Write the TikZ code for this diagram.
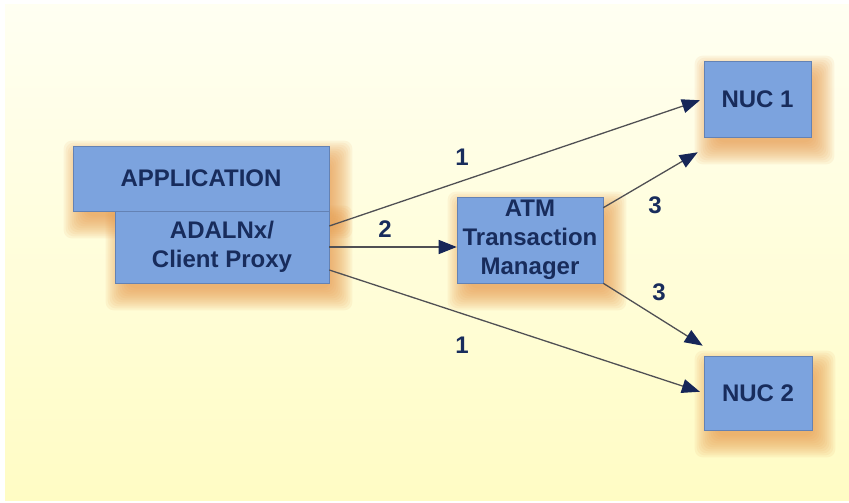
\documentclass[tikz,border=0pt]{standalone}
\usepackage{fontspec}
\setmainfont{Liberation Sans}
\usetikzlibrary{arrows.meta,calc,backgrounds}
\definecolor{boxblue}{RGB}{124,163,222}
\definecolor{boxedge}{RGB}{100,130,180}
\definecolor{navytext}{RGB}{24,44,92}
\definecolor{linegrey}{RGB}{80,80,84}
\definecolor{tipnavy}{RGB}{22,38,88}
\definecolor{bgtop}{RGB}{255,255,242}
\definecolor{bgbot}{RGB}{255,252,196}
\definecolor{shadowtan}{RGB}{232,150,70}

% soft shadow behind a named node
\newcommand{\softshadow}[1]{%
  \foreach \r in {16,14,...,-6}
    \fill[shadowtan,opacity=0.09,rounded corners=8pt]
      ($(#1.south west)+(7-\r,-11-\r)$) rectangle ($(#1.north east)+(7+\r,-11+\r)$);
}

\begin{document}
\begin{tikzpicture}[x=1pt,y=1pt,
  font=\fontsize{24}{29}\selectfont\bfseries,
  box/.style={draw=boxedge,line width=0.6pt,fill=boxblue,text=navytext,inner sep=0pt,align=center},
  link/.style={draw=linegrey,line width=1.3pt,-{Triangle[length=18pt,width=14pt,color=tipnavy]}},
  num/.style={text=navytext,inner sep=0pt}]
\useasboundingbox (0,0) rectangle (849,503);

% boxes
\node[box,minimum width=256pt,minimum height=65pt] (app) at (201,324.5) {APPLICATION};
\node[box,minimum width=214pt,minimum height=72pt] (adal) at (222,256) {ADALNx/\\Client Proxy};
\node[box,minimum width=146pt,minimum height=86pt] (atm) at (530,263) {ATM\\Transaction\\Manager};
\node[box,minimum width=107pt,minimum height=76pt] (nuc1) at (757.5,404) {NUC 1};
\node[box,minimum width=108pt,minimum height=74pt] (nuc2) at (758,110) {NUC 2};

\begin{scope}[on background layer]
\fill[white] (0,0) rectangle (849,503);
\shade[top color=bgtop,bottom color=bgbot] (5,2) rectangle (849,498);
\softshadow{app}
\softshadow{adal}
\softshadow{atm}
\softshadow{nuc1}
\softshadow{nuc2}
\end{scope}

% free ends
\coordinate (up3) at ($(nuc1.south west)+(-6,-15)$);
\coordinate (low3) at ($(nuc2.north west)+(-1,10)$);

% arrows
\draw[link,shorten >=4pt] ($(adal.east)+(0,21)$) -- (nuc1.west);
\draw[link] (adal.east) -- (adal.east -| atm.west);
\draw[link,shorten >=4pt] ($(adal.east)+(0,-23)$) -- (nuc2.west);
\draw[link] ($(atm.north east)+(0,-11)$) -- (up3);
\draw[link] (atm.south east) -- (low3);

% labels
\node[num] (l1a) at (462,346) {1};
\node[num] (l2) at (385,274) {2};
\node[num] (l3a) at (655,298) {3};
\node[num] (l3b) at (659,211) {3};
\node[num] (l1b) at (462,158) {1};
\end{tikzpicture}
\end{document}
